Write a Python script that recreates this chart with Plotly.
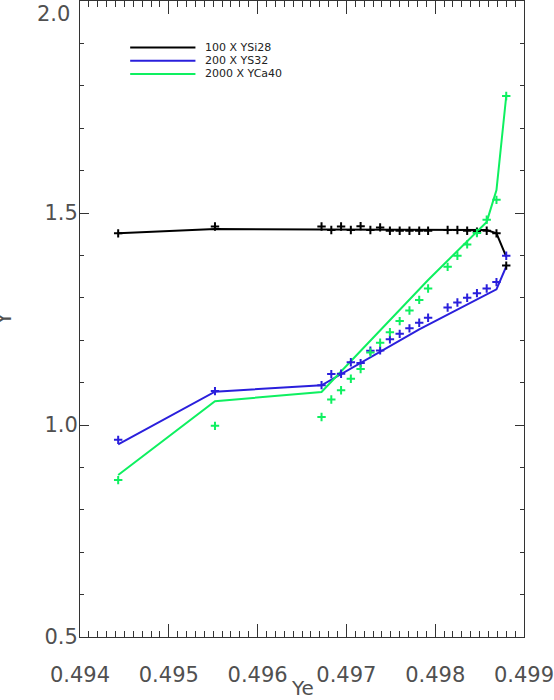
import plotly.graph_objects as go

# Ye grid of the plus markers (all three series share it)
ye = [0.49443, 0.49552, 0.49672, 0.49683, 0.49694, 0.49705, 0.49716,
      0.49727, 0.49738, 0.49749, 0.49760, 0.49771, 0.49782, 0.49792,
      0.49814, 0.49825, 0.49836, 0.49847, 0.49858, 0.49869, 0.49880]

y_si28_pts = [1.452, 1.468, 1.468, 1.460, 1.468, 1.460, 1.469, 1.460, 1.466,
              1.458, 1.458, 1.458, 1.458, 1.458, 1.460, 1.460, 1.458, 1.456,
              1.458, 1.452, 1.376]
y_s32_pts = [0.965, 1.080, 1.094, 1.120, 1.121, 1.148, 1.146, 1.175, 1.176,
             1.202, 1.215, 1.228, 1.241, 1.253, 1.277, 1.289, 1.300, 1.311,
             1.322, 1.337, 1.399]
y_ca40_pts = [0.870, 0.998, 1.019, 1.060, 1.082, 1.109, 1.132, 1.171, 1.194,
              1.219, 1.245, 1.270, 1.295, 1.322, 1.373, 1.399, 1.426, 1.453,
              1.484, 1.531, 1.776]

# solid curves
ye_si28_line = [0.49443, 0.49552, 0.49672, 0.49792, 0.49858, 0.49869, 0.49880]
y_si28_line = [1.452, 1.462, 1.461, 1.461, 1.460, 1.452, 1.397]
ye_s32_line = [0.49443, 0.49552, 0.49672, 0.49782, 0.49869, 0.49880]
y_s32_line = [0.9545, 1.0786, 1.0936, 1.2257, 1.3200, 1.3738]
ye_ca40_line = [0.49443, 0.49552, 0.49672, 0.49792, 0.49858, 0.49869, 0.49880]
y_ca40_line = [0.882, 1.056, 1.078, 1.342, 1.479, 1.554, 1.776]

series = [
    ("100 X YSi28", "#000000", ye_si28_line, y_si28_line, y_si28_pts),
    ("200 X YS32", "#2a1fdc", ye_s32_line, y_s32_line, y_s32_pts),
    ("2000 X YCa40", "#0ef060", ye_ca40_line, y_ca40_line, y_ca40_pts),
]

x_ticks = [0.494, 0.495, 0.496, 0.497, 0.498, 0.499]
y_ticks = [0.5, 1.0, 1.5, 2.0]

FONT = "DejaVu Sans"
TXT = "#505050"

fig = go.Figure()
for name, color, lx, ly, py in series:
    fig.add_trace(go.Scatter(x=lx, y=ly, mode="lines", name=name,
                             line=dict(color=color, width=2), showlegend=False))
for name, color, lx, ly, py in series:
    fig.add_trace(go.Scatter(x=ye, y=py, mode="markers", showlegend=False,
                             marker=dict(symbol="cross-thin", size=6,
                                         line=dict(color=color, width=2))))

# hand-drawn legend, top left
for i, (name, color, *_rest) in enumerate(series):
    yy = 0.927 - i * 0.0208
    fig.add_shape(type="line", xref="paper", yref="paper",
                  x0=0.113, x1=0.26, y0=yy, y1=yy,
                  line=dict(color=color, width=2))
    fig.add_annotation(text=name, xref="paper", yref="paper", x=0.276, y=yy,
                       xanchor="left", yanchor="middle", showarrow=False,
                       font=dict(family=FONT, size=11, color="#222222"))

# Y title and the top tick label sit where IDL puts them
fig.add_annotation(text="Y", xref="paper", yref="paper", x=0, y=0.5,
                   xanchor="center", yanchor="middle", xshift=-76,
                   textangle=-90, showarrow=False,
                   font=dict(family=FONT, size=21, color=TXT))
fig.add_annotation(text="2.0", xref="paper", yref="y", x=0, y=2.0,
                   xanchor="right", yanchor="top", xshift=-8, yshift=1,
                   showarrow=False, font=dict(family=FONT, size=21, color=TXT))
fig.add_annotation(text="Ye", xref="paper", yref="paper", x=0.5, y=0,
                   xanchor="center", yanchor="middle", yshift=-51,
                   showarrow=False, font=dict(family=FONT, size=20, color=TXT))

axis_common = dict(showline=True, linecolor="#333333", linewidth=1,
                   mirror="ticks", showgrid=False, zeroline=False,
                   automargin=False, ticklabeloverflow="allow",
                   ticks="inside", tickcolor="#333333", tickwidth=1,
                   tickfont=dict(family=FONT, size=21, color=TXT))

fig.update_xaxes(range=[0.494, 0.499], tickvals=x_ticks,
                 ticktext=[f"{v:.3f}" for v in x_ticks], ticklen=13,
                 ticklabelstandoff=19,
                 minor=dict(ticks="inside", ticklen=6, dtick=0.0001,
                            tickcolor="#333333", showgrid=False),
                 **axis_common)
fig.update_yaxes(range=[0.5, 2.0], tickvals=y_ticks,
                 ticktext=[f"{v:.1f}" if v < 2 else "" for v in y_ticks],
                 ticklen=9, ticklabelstandoff=-3,
                 minor=dict(ticks="inside", ticklen=4, dtick=0.1,
                            tickcolor="#333333", showgrid=False),
                 **axis_common)

fig.update_layout(width=554, height=700, plot_bgcolor="white",
                  paper_bgcolor="white",
                  margin=dict(l=80, r=30, t=1, b=63))

fig.write_html("out.html", config={"displayModeBar": False},
               post_script="document.body.style.margin='0';")
